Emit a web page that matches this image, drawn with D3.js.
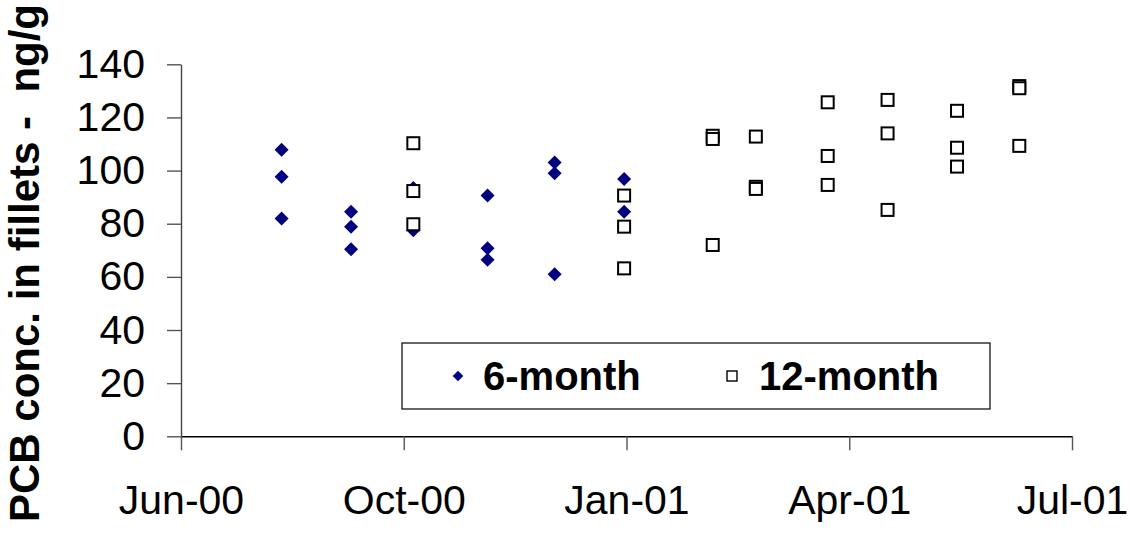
<!DOCTYPE html>
<html>
<head>
<meta charset="utf-8">
<script src="https://cdn.jsdelivr.net/npm/d3@7"></script>
<style>
  html, body { margin: 0; padding: 0; background: #fff; }
  svg { display: block; font-family: Arial, "Liberation Sans", sans-serif; }
</style>
</head>
<body>
<svg id="chart" width="1135" height="533"></svg>
<script>
// ---- data ----
const sixMonthDates = ["2000-08-11","2000-08-11","2000-08-11",
  "2000-09-09","2000-09-09","2000-09-09",
  "2000-10-05","2000-10-05",
  "2000-11-05","2000-11-05","2000-11-05",
  "2000-12-03","2000-12-03","2000-12-03",
  "2001-01-01","2001-01-01"];
const sixMonthValues = [107.8, 97.7, 82.0,
  84.5, 78.9, 70.4,
  93.4, 77.5,
  90.6, 70.8, 66.4,
  103.0, 99.0, 61.0,
  96.8, 84.5];

const twelveMonthDates = ["2000-10-05","2000-10-05","2000-10-05",
  "2001-01-01","2001-01-01","2001-01-01",
  "2001-02-07","2001-02-07","2001-02-07",
  "2001-02-25","2001-02-25","2001-02-25",
  "2001-03-27","2001-03-27","2001-03-27",
  "2001-04-21","2001-04-21","2001-04-21",
  "2001-05-20","2001-05-20","2001-05-20",
  "2001-06-15","2001-06-15","2001-06-15"];
const twelveMonthValues = [110.3, 92.3, 79.8,
  90.6, 78.9, 63.2,
  113.1, 111.9, 72.0,
  112.8, 93.9, 93.1,
  125.7, 105.5, 94.6,
  126.6, 114.0, 85.2,
  122.5, 108.6, 101.5,
  131.8, 131.0, 109.3];

const xTickDates = ["2000-06-30","2000-10-01","2001-01-02","2001-04-05","2001-07-07"];
const xTickLabels = ["Jun-00","Oct-00","Jan-01","Apr-01","Jul-01"];
const yTicks = [0, 20, 40, 60, 80, 100, 120, 140];
const seriesNames = ["6-month", "12-month"];
const yTitle = "PCB conc. in fillets -  ng/g";

// ---- drawing ----
const parse = d3.timeParse("%Y-%m-%d");
const svg = d3.select("#chart");

const x = d3.scaleTime()
  .domain([parse(xTickDates[0]), parse(xTickDates[xTickDates.length - 1])])
  .range([181, 1072]);
const y = d3.scaleLinear().domain([0, 140]).range([436.3, 64.3]);

// Y axis
const yAxis = d3.axisLeft(y).tickValues(yTicks).tickSize(14).tickSizeOuter(0).tickPadding(22);
const gy = svg.append("g").attr("transform", "translate(181,0)").call(yAxis);
gy.select(".domain").attr("stroke", "#444").attr("stroke-width", 1.4);
gy.selectAll(".tick line").attr("stroke", "#555").attr("stroke-width", 1.4);
gy.selectAll(".tick text").attr("font-size", 41).attr("fill", "#000")
  .attr("font-family", "Arial, 'Liberation Sans', sans-serif");

// X axis
const tickDates = xTickDates.map(parse);
const xAxis = d3.axisBottom(x).tickValues(tickDates).tickSize(14).tickSizeOuter(0)
  .tickFormat((d, i) => xTickLabels[i]).tickPadding(35);
const gx = svg.append("g").attr("transform", "translate(0,436.3)").call(xAxis);
gx.select(".domain").attr("stroke", "#000").attr("stroke-width", 1.5);
gx.selectAll(".tick line").attr("stroke", "#555").attr("stroke-width", 1.4);
gx.selectAll(".tick text").attr("font-size", 41).attr("fill", "#000")
  .attr("font-family", "Arial, 'Liberation Sans', sans-serif");

// Y title
svg.append("text")
  .attr("transform", "translate(39,263) rotate(-90)")
  .attr("text-anchor", "middle")
  .attr("font-size", 42).attr("font-weight", "bold")
  .style("white-space", "pre")
  .attr("xml:space", "preserve")
  .text(yTitle);

// 6-month diamonds
svg.append("g").selectAll("path")
  .data(sixMonthValues.map((v, i) => ({ d: parse(sixMonthDates[i]), v })))
  .join("path")
  .attr("d", d3.symbol().type(d3.symbolSquare).size(98))
  .attr("transform", d => `translate(${x(d.d)},${y(d.v)}) rotate(45)`)
  .attr("fill", "#000080");

// 12-month squares
svg.append("g").selectAll("rect")
  .data(twelveMonthValues.map((v, i) => ({ d: parse(twelveMonthDates[i]), v })))
  .join("rect")
  .attr("x", d => x(d.d) - 6)
  .attr("y", d => y(d.v) - 6)
  .attr("width", 12).attr("height", 12)
  .attr("fill", "#fff").attr("stroke", "#000").attr("stroke-width", 2);

// Legend
const lg = svg.append("g");
lg.append("rect").attr("x", 402).attr("y", 343).attr("width", 588).attr("height", 66)
  .attr("fill", "#fff").attr("stroke", "#000").attr("stroke-width", 1.2);
lg.append("path")
  .attr("d", d3.symbol().type(d3.symbolSquare).size(56))
  .attr("transform", "translate(458,376) rotate(45)")
  .attr("fill", "#000080");
lg.append("text").attr("x", 483).attr("y", 390).attr("font-size", 40).attr("font-weight", "bold")
  .text(seriesNames[0]);
lg.append("rect").attr("x", 727).attr("y", 371).attr("width", 10).attr("height", 10)
  .attr("fill", "#fff").attr("stroke", "#000").attr("stroke-width", 1.4);
lg.append("text").attr("x", 759).attr("y", 390).attr("font-size", 40).attr("font-weight", "bold")
  .text(seriesNames[1]);
</script>
</body>
</html>
